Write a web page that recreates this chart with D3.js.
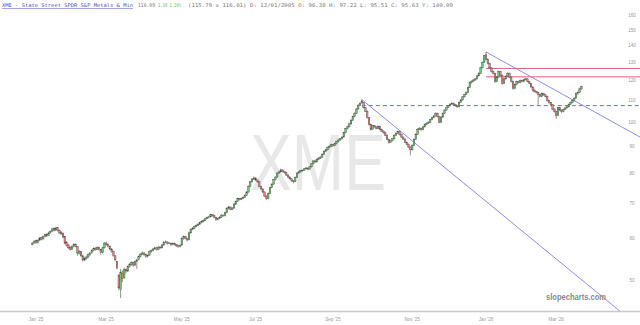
<!DOCTYPE html>
<html><head><meta charset="utf-8">
<script src="https://cdn.jsdelivr.net/npm/d3@7"></script>
<style>body{margin:0;background:#fff;} svg{display:block;}</style>
</head><body><svg id="c" width="640" height="325"></svg>
<script>
// Daily OHLC, index 0 = 30 Dec 2024
const opens=[58.4,58.9,59.4,58.9,59.6,60.2,59.9,60.6,61.1,60.8,
61.6,62.0,62.7,62.3,62.9,62.2,61.6,61.3,60.5,58.9,
58.3,57.7,57.2,58.0,58.5,58.0,56.2,56.6,55.6,54.6,
55.0,55.3,55.9,56.4,56.9,57.5,57.2,57.7,57.2,56.4,
57.6,58.8,58.5,58.0,57.3,56.7,55.6,54.2,51.0,48.0,
51.5,50.5,52.3,52.0,53.1,53.6,54.0,53.4,54.2,54.7,
55.4,56.0,56.3,55.9,55.5,55.8,56.6,56.9,57.3,57.6,
57.2,57.8,57.6,58.3,59.0,59.1,58.7,58.8,58.4,58.7,
58.5,58.1,58.0,58.3,60.0,60.5,60.1,59.7,61.5,62.4,
62.8,63.2,63.6,63.9,64.3,64.7,65.0,65.5,65.8,66.0,
66.6,66.3,65.9,65.2,65.5,65.9,66.5,66.3,67.2,68.5,
68.9,68.2,68.6,69.8,70.6,71.5,71.2,71.6,71.9,72.5,
73.6,75.5,77.0,77.9,78.3,77.6,77.0,75.4,74.6,73.6,
72.3,71.5,73.2,75.0,76.2,77.7,78.6,80.0,80.4,81.1,
80.6,80.2,79.3,78.6,78.0,77.4,77.0,78.5,80.0,80.4,
80.8,81.0,81.5,81.8,81.4,82.2,83.3,84.4,84.0,84.9,
85.4,85.8,86.9,88.0,88.6,89.5,90.0,90.6,90.2,91.0,
91.8,92.5,93.0,93.7,95.5,97.2,98.0,99.3,100.9,102.5,
104.0,106.0,107.8,109.8,109.0,106.6,105.0,102.0,99.0,97.0,
98.5,98.0,97.3,98.2,97.0,96.2,95.6,94.5,92.8,91.6,
92.2,93.0,94.5,95.3,95.9,94.8,93.7,92.9,91.6,90.8,
89.7,88.6,90.4,92.8,94.9,97.0,97.4,96.8,98.0,99.0,
99.6,100.0,101.2,102.0,102.8,104.0,102.5,100.0,102.3,104.0,
105.5,106.8,107.5,108.3,108.7,108.1,107.5,107.0,109.2,110.3,
111.8,113.0,114.0,116.5,119.0,119.8,120.4,121.0,122.6,124.0,
127.0,130.0,134.5,132.0,129.5,127.0,125.0,124.0,119.6,122.0,
124.9,123.0,118.7,121.0,122.5,124.0,122.0,119.7,116.0,118.0,
119.6,119.0,120.2,119.6,120.5,121.0,119.6,118.7,116.8,115.0,
114.5,114.0,113.0,112.0,113.5,112.8,112.0,110.0,109.0,108.0,
106.0,104.8,103.0,106.6,105.5,104.8,105.8,106.5,107.0,108.2,
109.0,110.0,111.2,113.5,114.0,115.8];
const highs=[59.1,59.6,59.7,59.8,60.4,60.5,60.8,61.3,61.4,61.8,
62.2,62.9,63.0,63.2,63.1,62.4,62.0,61.6,60.6,59.3,
58.6,58.0,58.2,58.8,58.7,58.1,57.1,56.8,55.9,55.4,
55.7,56.2,56.6,57.2,57.7,57.8,58.0,57.9,57.3,57.9,
59.1,59.2,58.7,58.2,57.5,56.9,55.8,54.4,51.3,52.5,
52.2,52.8,52.6,53.3,53.9,54.3,54.2,54.5,54.9,55.7,
56.3,56.7,56.5,56.1,56.0,56.9,57.2,57.6,57.9,57.8,
58.1,58.0,58.6,59.3,59.5,59.2,59.1,58.9,59.0,58.9,
58.6,58.4,58.5,60.3,60.8,60.7,60.2,61.8,62.7,63.1,
63.5,63.9,64.2,64.6,65.0,65.3,65.8,66.1,66.3,66.9,
66.8,66.5,66.0,65.8,66.2,66.8,66.7,67.5,68.8,69.3,
69.1,68.9,70.1,70.9,71.8,71.7,71.9,72.2,72.8,73.9,
75.8,77.3,78.2,78.8,78.5,77.8,77.1,75.7,74.8,73.8,
72.6,73.5,75.3,76.5,78.0,78.9,80.3,80.8,81.6,81.3,
80.8,80.4,79.6,78.9,78.2,77.6,78.8,80.3,80.7,81.1,
81.3,81.8,82.2,82.0,82.5,83.6,84.8,84.6,85.2,85.8,
86.2,87.3,88.4,89.0,89.9,90.4,91.0,90.9,91.4,92.2,
92.9,93.4,94.1,95.9,97.6,98.5,99.8,101.4,103.0,104.5,
106.5,108.3,109.2,110.5,109.3,107.0,105.3,102.3,99.5,98.9,
98.8,98.2,98.6,98.4,97.3,96.5,95.9,94.8,93.1,92.6,
93.4,94.9,95.7,96.4,96.2,95.1,94.0,93.2,91.9,91.1,
90.0,90.8,93.2,95.3,97.4,97.9,97.7,98.4,99.4,100.0,
100.5,101.6,102.4,103.2,104.5,104.3,102.8,102.7,104.4,105.9,
107.2,107.9,108.7,109.2,109.0,108.4,107.8,109.6,110.7,112.2,
113.4,114.5,117.0,119.5,120.3,120.9,121.6,123.1,124.6,127.6,
130.6,134.6,136.2,132.4,129.9,127.4,125.5,124.3,122.5,125.5,
125.3,123.4,121.5,123.0,124.6,124.4,122.4,120.1,118.5,120.1,
120.0,120.7,120.6,121.0,121.6,121.3,119.9,119.0,117.1,115.8,
114.8,114.3,113.3,114.0,113.8,113.1,112.3,110.4,109.3,108.3,
106.3,105.2,107.0,107.0,105.8,106.2,106.9,107.5,108.6,109.5,
110.5,111.6,114.0,114.5,116.4,117.4];
const lows=[58.2,58.6,58.6,58.7,59.3,59.5,59.7,60.3,60.4,60.6,
61.3,61.8,61.9,62.0,61.9,61.2,60.9,60.1,58.5,57.9,
57.3,56.9,57.0,57.7,57.7,55.6,55.9,55.3,54.2,54.3,
54.7,55.1,55.6,56.1,56.7,56.9,57.0,56.9,55.9,56.2,
57.4,58.1,57.7,57.0,56.4,55.4,54.3,52.4,47.8,46.2,
49.5,50.2,51.5,51.8,52.8,53.2,53.0,53.2,52.5,54.5,
55.2,55.8,55.6,55.1,55.2,55.6,56.4,56.7,57.1,56.9,
57.0,57.3,57.4,58.1,58.7,58.4,58.5,58.1,58.2,58.2,
57.8,57.6,57.7,58.1,59.7,59.8,59.3,59.5,61.3,62.2,
62.5,63.0,63.3,63.7,64.1,64.4,64.8,65.3,65.5,65.8,
66.0,65.6,64.9,65.0,65.3,65.7,66.0,66.1,67.0,68.2,
67.9,68.0,68.4,69.5,70.4,70.9,71.0,71.3,71.7,72.3,
73.4,75.2,76.7,77.6,77.2,76.6,75.1,74.3,73.3,72.0,
71.0,71.3,73.0,74.8,76.0,77.4,78.4,79.7,80.1,80.2,
79.8,79.0,78.3,77.7,77.0,76.5,76.8,78.3,79.7,80.1,
80.4,80.7,81.2,81.0,81.2,82.0,83.1,83.6,83.8,84.6,
85.1,85.6,86.7,87.7,88.3,89.2,89.7,89.8,90.0,90.7,
91.5,92.2,92.7,93.5,95.2,96.9,97.7,99.0,100.6,102.2,
103.7,105.7,107.4,108.4,106.2,104.6,101.6,98.6,96.4,96.8,
97.6,96.9,97.0,96.6,95.8,95.1,94.1,92.4,91.0,91.3,
91.9,92.7,94.2,95.0,94.4,93.3,92.5,91.2,90.4,89.2,
86.5,88.3,90.1,92.5,94.6,96.6,96.3,96.5,97.7,98.7,
99.3,99.7,100.9,101.7,102.5,102.1,99.6,99.8,102.0,103.7,
105.2,106.5,107.2,108.0,107.7,107.1,106.5,106.8,108.9,110.0,
111.5,112.7,113.7,116.2,118.6,119.4,120.0,120.7,122.3,123.7,
126.7,129.7,131.2,128.9,126.4,124.4,123.4,118.9,119.2,121.6,
122.4,118.0,118.3,120.6,122.1,121.5,119.1,115.4,115.6,117.6,
118.5,118.7,119.1,119.3,120.2,119.1,118.2,116.3,114.5,114.0,
113.5,108.0,111.5,111.7,112.3,111.5,109.5,108.5,107.4,105.4,
104.3,101.5,102.7,105.0,104.2,104.5,105.5,106.2,106.7,107.9,
108.7,109.6,110.9,112.6,113.7,115.3];
const closes=[58.8,59.3,58.9,59.5,60.1,59.8,60.5,61.0,60.7,61.5,
61.9,62.6,62.2,62.8,62.1,61.5,61.2,60.4,58.8,58.2,
57.6,57.2,57.9,58.4,58.0,56.3,56.6,55.6,54.6,55.0,
55.3,55.9,56.3,56.9,57.4,57.2,57.7,57.2,56.4,57.6,
58.8,58.4,58.0,57.3,56.7,55.7,54.6,52.7,48.3,51.8,
50.3,52.3,52.0,53.0,53.6,54.0,53.4,54.2,54.6,55.4,
56.0,56.3,55.9,55.5,55.7,56.6,56.9,57.3,57.6,57.2,
57.8,57.6,58.3,59.0,59.1,58.7,58.8,58.4,58.7,58.5,
58.1,58.0,58.2,60.0,60.5,60.1,59.6,61.5,62.4,62.8,
63.2,63.6,63.9,64.3,64.7,65.0,65.5,65.8,66.0,66.6,
66.3,65.9,65.2,65.5,65.9,66.5,66.3,67.2,68.5,68.9,
68.2,68.6,69.8,70.6,71.5,71.2,71.6,71.9,72.5,73.6,
75.5,77.0,77.9,78.3,77.6,77.0,75.4,74.6,73.6,72.3,
71.5,73.2,75.0,76.2,77.7,78.6,80.0,80.4,81.1,80.6,
80.2,79.3,78.6,78.0,77.4,77.0,78.5,80.0,80.4,80.8,
81.0,81.5,81.8,81.4,82.2,83.3,84.4,84.0,84.9,85.4,
85.8,86.9,88.0,88.6,89.5,90.0,90.6,90.2,91.0,91.8,
92.5,93.0,93.7,95.5,97.2,98.0,99.3,100.9,102.5,104.0,
106.0,107.8,108.5,109.0,106.6,105.0,102.0,99.0,97.0,98.5,
98.0,97.3,98.2,97.0,96.2,95.6,94.5,92.8,91.6,92.2,
93.0,94.5,95.3,95.9,94.8,93.7,92.9,91.6,90.8,89.7,
88.6,90.4,92.8,94.9,97.0,97.4,96.8,98.0,99.0,99.6,
100.0,101.2,102.0,102.8,104.0,102.5,100.0,102.3,104.0,105.5,
106.8,107.5,108.3,108.7,108.1,107.5,107.0,109.2,110.3,111.8,
113.0,114.0,116.5,119.0,119.8,120.4,121.0,122.6,124.0,127.0,
130.0,134.0,132.0,129.5,127.0,125.0,124.0,119.6,122.0,124.9,
123.0,118.7,121.0,122.5,124.0,122.0,119.7,116.0,118.0,119.6,
119.0,120.2,119.6,120.5,121.0,119.6,118.7,116.8,115.0,114.5,
114.0,113.0,112.0,113.5,112.8,112.0,110.0,109.0,108.0,106.0,
104.8,103.0,106.6,105.5,104.8,105.8,106.5,107.0,108.2,109.0,
110.0,111.2,113.5,114.0,115.8,117.0];

const yTicks=[50,60,70,80,90,100,110,120,130,140,150,160];
const xTickIdx=[2,41,83,124,167,211,252,291];
const xTickLabels=["Jan '25","Mar '25","May '25","Jul '25","Sep '25","Nov '25","Jan '26","Mar '26"];
// trend lines anchored in (day index, price)
const trendLines=[{i1:183,p1:110.5,i2:326.4,p2:43.6},{i1:252,p1:136.2,i2:337.6,p2:93.7}];
const supportLevels=[{i1:183,p:107.6}];
const resistanceLevels=[{i1:252,p:126.7},{i1:252,p:122.1}];
const titleParts=[
  {t:"XME - State Street SPDR S&P Metals & Min",kind:"name"},
  {t:"116.99",kind:"val"},
  {t:"1.39 1.20%",kind:"chg"},
  {t:"(115.79 x 116.01) D: 12/01/2005 O: 96.38 H: 97.22 L: 95.51 C: 95.63 Y: 140.09",kind:"val"}
];

const svg=d3.select("#c");
const W=640,H=325;
const x=d3.scaleLinear().domain([0,338]).range([32.4,640.8]);
const y=d3.scaleLog().domain([50,150]).range([280,30]);
const lastIdx=338;

svg.append("defs").append("clipPath").attr("id","clip")
  .append("rect").attr("x",0).attr("y",17).attr("width",W).attr("height",311-17);

// watermark
svg.append("text").attr("x",318).attr("y",190).attr("text-anchor","middle")
  .attr("font-family","Liberation Sans, Arial, sans-serif").attr("font-size",80)
  .attr("textLength",136).attr("lengthAdjust","spacingAndGlyphs")
  .attr("fill","#e8e8e8").text("XME");

// bottom axis line
svg.append("line").attr("x1",0).attr("x2",W).attr("y1",311.5).attr("y2",311.5)
  .attr("stroke","#c8c8c8").attr("stroke-width",1.5);

// y labels
svg.append("g").selectAll("text").data(yTicks).join("text")
  .attr("x",632).attr("y",d=>y(d)).attr("dy","0.35em").attr("text-anchor","middle")
  .attr("font-family","Liberation Sans, Arial, sans-serif").attr("font-size",4.6)
  .attr("fill","#999").text(d=>d);

// x labels
svg.append("g").selectAll("text").data(xTickIdx).join("text")
  .attr("x",d=>x(d)).attr("y",320.5).attr("text-anchor","middle")
  .attr("font-family","Liberation Sans, Arial, sans-serif").attr("font-size",4.6)
  .attr("fill","#999").text((d,i)=>xTickLabels[i]);

const plot=svg.append("g").attr("clip-path","url(#clip)");

// horizontal levels
plot.selectAll(".sup").data(supportLevels).join("line")
  .attr("x1",d=>x(d.i1)).attr("x2",x(lastIdx)).attr("y1",d=>y(d.p)).attr("y2",d=>y(d.p))
  .attr("stroke","#6a6ae6").attr("stroke-width",1).attr("stroke-dasharray","4,3");
plot.selectAll(".res").data(resistanceLevels).join("line")
  .attr("x1",d=>x(d.i1)).attr("x2",x(lastIdx)).attr("y1",d=>y(d.p)).attr("y2",d=>y(d.p))
  .attr("stroke","#e0607a").attr("stroke-width",1);
// trend lines
plot.selectAll(".tl").data(trendLines).join("line")
  .attr("x1",d=>x(d.i1)).attr("y1",d=>y(d.p1)).attr("x2",d=>x(d.i2)).attr("y2",d=>y(d.p2))
  .attr("stroke","#8080e0").attr("stroke-width",0.9);

// candles
const idx=d3.range(closes.length);
const cg=plot.append("g");
cg.selectAll(".wick").data(idx).join("line")
  .attr("x1",i=>x(i)).attr("x2",i=>x(i)).attr("y1",i=>y(highs[i])).attr("y2",i=>y(lows[i]))
  .attr("stroke","#4a4a4a").attr("stroke-width",0.6);
cg.selectAll(".body").data(idx).join("rect")
  .attr("x",i=>x(i)-0.8).attr("width",1.6)
  .attr("y",i=>y(Math.max(opens[i],closes[i])))
  .attr("height",i=>Math.max(0.6,Math.abs(y(opens[i])-y(closes[i]))))
  .attr("fill",i=>closes[i]>=opens[i]?"#6cc46c":"#ec8080")
  .attr("stroke","#4a4a4a").attr("stroke-width",0.4);

// title (segments laid out left to right)
const partX=[2,138,158,188], partW=[131,17,23,265];
const partColor={name:"#4a4ad0",val:"#777",chg:"#5cb85c"};
svg.append("g").selectAll("text").data(titleParts).join("text")
  .attr("x",(d,i)=>partX[i]).attr("y",7)
  .attr("font-family","DejaVu Sans Mono, monospace").attr("font-size",5)
  .attr("textLength",(d,i)=>partW[i]).attr("lengthAdjust","spacingAndGlyphs")
  .attr("fill",d=>partColor[d.kind])
  .attr("text-decoration",d=>d.kind==="name"?"underline":null)
  .text(d=>d.t);

// brand
svg.append("text").attr("x",576).attr("y",300).attr("text-anchor","middle")
  .attr("font-family","Liberation Sans, Arial, sans-serif").attr("font-weight","bold")
  .attr("font-size",8.5).attr("textLength",60).attr("lengthAdjust","spacingAndGlyphs")
  .attr("fill","#8a8a8a").text("slopecharts.com");
</script></body></html>
